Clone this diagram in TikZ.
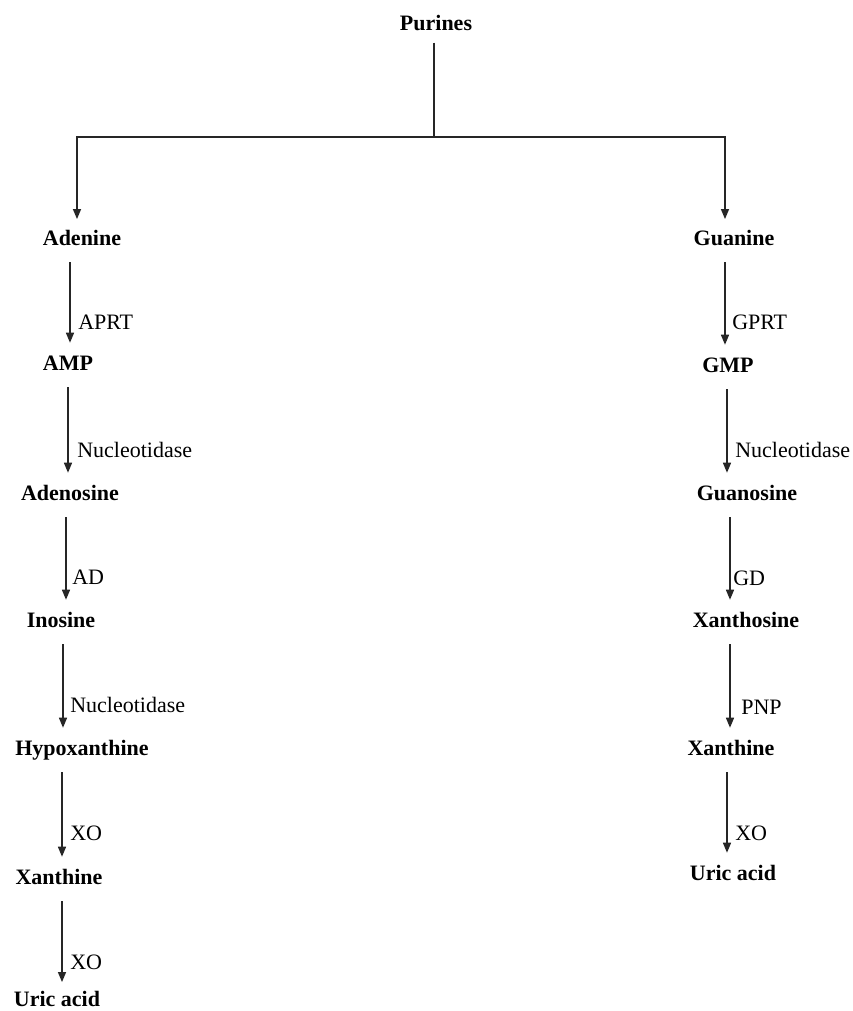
\documentclass[tikz,border=0pt]{standalone}
\usepackage{fontspec}
\setmainfont{Liberation Serif}
\usetikzlibrary{arrows.meta}

\begin{document}
\begin{tikzpicture}[x=0.75pt, y=-0.75pt,
	comp/.style={font=\fontsize{16.5}{19}\selectfont\bfseries, inner sep=0pt, text height=13pt, text depth=2pt},
	enz/.style={font=\fontsize{16.5}{19}\selectfont, inner sep=0pt, anchor=west, text height=13pt, text depth=2pt},
	link/.style={line width=1pt, black!85},
	conv/.style={link, -{Triangle[length=7.5pt,width=6pt]}, shorten <=10.5pt, shorten >=7.5pt}]
	\useasboundingbox (0,0) rectangle (853,1011);

	% top
	\node[comp] (purines) at (436, 23) {Purines};
	\node[comp] (adenine) at (82, 238) {Adenine};
	\node[comp] (guanine) at (734, 238) {Guanine};
	\coordinate (split) at (434, 137);
	\coordinate (dropA) at (77, 137);
	\coordinate (dropG) at (725, 137);
	\draw[link, shorten <=7pt] (purines.south -| split) -- (split);
	\draw[conv, shorten <=0pt, shorten >=6.5pt] (split) -- (dropA) -- (dropA |- adenine.north);
	\draw[conv, shorten <=0pt, shorten >=6.5pt] (split) -- (dropG) -- (dropG |- guanine.north);

	% adenine branch
	\node[comp] (amp) at (68, 363) {AMP};
	\node[comp] (adenosine) at (70, 493) {Adenosine};
	\node[comp] (inosine) at (61, 620) {Inosine};
	\node[comp] (hypoxanthine) at (82, 748) {Hypoxanthine};
	\node[comp] (xanthineA) at (59, 877) {Xanthine};
	\node[comp] (uricA) at (57, 999) {Uric acid};

	\draw[conv] (adenine.south -| 70,0) -- (amp.north -| 70,0);
	\draw[conv] (amp.south -| 68,0) -- (adenosine.north -| 68,0);
	\draw[conv] (adenosine.south -| 66,0) -- (inosine.north -| 66,0);
	\draw[conv] (inosine.south -| 63,0) -- (hypoxanthine.north -| 63,0);
	\draw[conv] (hypoxanthine.south -| 62,0) -- (xanthineA.north -| 62,0);
	\draw[conv, shorten >=5pt] (xanthineA.south -| 62,0) -- (uricA.north -| 62,0);

	\node[enz] (aprt) at (78, 322) {APRT};
	\node[enz] (nucA1) at (77, 450) {Nucleotidase};
	\node[enz] (ad) at (72, 577) {AD};
	\node[enz] (nucA2) at (70, 705) {Nucleotidase};
	\node[enz] (xoA1) at (70, 833) {XO};
	\node[enz] (xoA2) at (70, 962) {XO};

	% guanine branch
	\node[comp] (gmp) at (728, 365) {GMP};
	\node[comp] (guanosine) at (747, 493) {Guanosine};
	\node[comp] (xanthosine) at (746, 620) {Xanthosine};
	\node[comp] (xanthineG) at (731, 748) {Xanthine};
	\node[comp] (uricG) at (733, 873) {Uric acid};

	\draw[conv] (guanine.south -| 725,0) -- (gmp.north -| 725,0);
	\draw[conv] (gmp.south -| 727,0) -- (guanosine.north -| 727,0);
	\draw[conv] (guanosine.south -| 730,0) -- (xanthosine.north -| 730,0);
	\draw[conv] (xanthosine.south -| 730,0) -- (xanthineG.north -| 730,0);
	\draw[conv] (xanthineG.south -| 727,0) -- (uricG.north -| 727,0);

	\node[enz] (gprt) at (732, 322) {GPRT};
	\node[enz] (nucG) at (735, 450) {Nucleotidase};
	\node[enz] (gd) at (733, 578) {GD};
	\node[enz] (pnp) at (741, 707) {PNP};
	\node[enz] (xoG) at (735, 833) {XO};
\end{tikzpicture}
\end{document}
